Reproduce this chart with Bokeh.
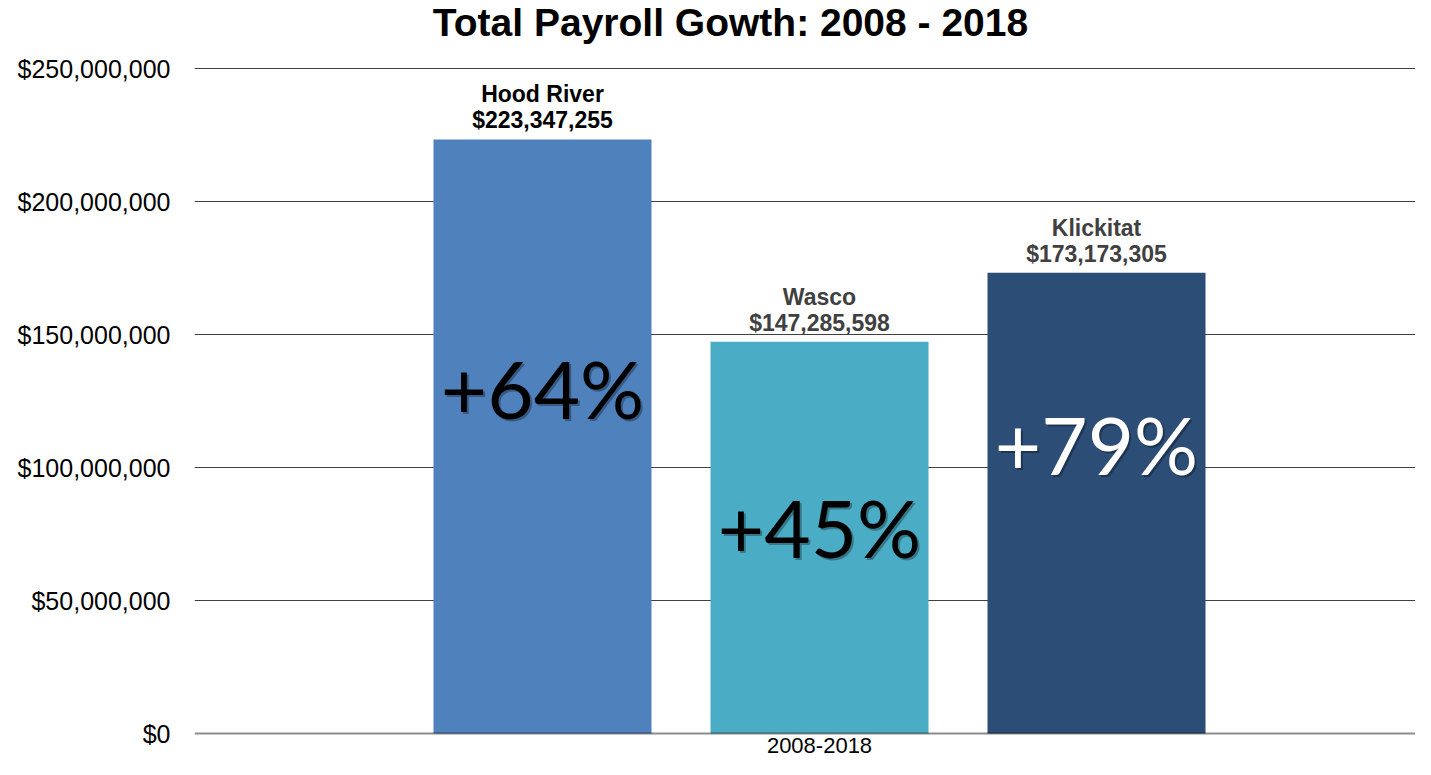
from bokeh.plotting import figure
from bokeh.models import (ColumnDataSource, FixedTicker, NumeralTickFormatter,
                          Range1d, Span)
from bokeh.core.properties import value
from bokeh.embed import file_html
from bokeh.resources import INLINE

# ---------------- data ----------------
counties = ["Hood River", "Wasco", "Klickitat"]
payroll = [223347255, 147285598, 173173305]
growth = ["+64%", "+45%", "+79%"]
period = "2008-2018"
y_ticks = [0, 50000000, 100000000, 150000000, 200000000, 250000000]
title_text = "Total Payroll Gowth: 2008 - 2018"

# ---------------- styles / layout ----------------
bar_colors = ["#4F81BD", "#4BACC6", "#2C4D75"]
label_colors = ["#000000", "#404040", "#404040"]
pct_colors = ["#000000", "#000000", "#FFFFFF"]
pct_frac = [0.581, 0.528, 0.629]   # vertical placement of growth labels within bars

W, H = 1415, 759
LEFT = 194            # frame left edge (px)
PLOT_TOP = 68         # pixel row of the top gridline
PLOT_BOTTOM = 733     # pixel row of the zero line
px_per_val = (PLOT_BOTTOM - PLOT_TOP) / (y_ticks[-1] - y_ticks[0])
y_lo = y_ticks[0] - (H - PLOT_BOTTOM) / px_per_val
y_hi = y_ticks[-1] + PLOT_TOP / px_per_val

idx = list(range(len(counties)))
src = ColumnDataSource(dict(
    x=idx,
    top=payroll,
    county=counties,
    vlabel=[f"${v:,}" for v in payroll],
    color=bar_colors,
    lcolor=label_colors,
    pct=growth,
    pcolor=pct_colors,
    py=[f * v for f, v in zip(pct_frac, payroll)],
))

mid = (len(counties) - 1) / 2
p = figure(width=W, height=H, output_backend="svg", toolbar_location=None,
           x_range=Range1d(mid - 2.2563, mid + 2.1516),
           y_range=Range1d(y_lo, y_hi),
           min_border_left=LEFT, min_border_right=0, min_border_top=0,
           min_border_bottom=0)
p.outline_line_color = None
p.background_fill_color = "white"
p.border_fill_color = "white"

p.vbar(x="x", top="top", width=0.787, bottom=0, source=src,
       fill_color="color", line_color=None)

# zero baseline (drawn over bars)
p.add_layout(Span(location=y_ticks[0], dimension="width", line_color="#000000",
                  line_alpha=0.45, line_width=2, level="overlay"))

# value labels above bars
p.text(x="x", y="top", text="vlabel", source=src, text_color="lcolor",
       text_font=value("Liberation Sans"), text_font_size="23px",
       text_font_style="bold", text_align="center", text_baseline="middle",
       y_offset=-19)
p.text(x="x", y="top", text="county", source=src, text_color="lcolor",
       text_font=value("Liberation Sans"), text_font_size="23px",
       text_font_style="bold", text_align="center", text_baseline="middle",
       y_offset=-45)

# growth labels inside bars (with a soft shadow)
p.text(x="x", y="py", text="pct", source=src, text_color="#000000", text_alpha=0.3,
       text_font=value("Lato"), text_font_size="80px",
       text_align="center", text_baseline="middle", x_offset=2, y_offset=2)
p.text(x="x", y="py", text="pct", source=src, text_color="pcolor",
       text_font=value("Lato"), text_font_size="80px",
       text_align="center", text_baseline="middle")

# chart title (centred over the whole chart area)
p.text(x=[mid], y=[y_ticks[-1]], text=[title_text], x_offset=-89, y_offset=-46,
       text_font=value("Liberation Sans"), text_font_size="39px",
       text_font_style="bold", text_color="#000000", text_align="center",
       text_baseline="middle")

# category label under the axis
p.text(x=[mid], y=[y_ticks[0]], text=[period], y_offset=12,
       text_font=value("Liberation Sans"), text_font_size="22px",
       text_color="#000000", text_align="center", text_baseline="middle")

# axes
p.yaxis.ticker = FixedTicker(ticks=y_ticks)
p.yaxis.formatter = NumeralTickFormatter(format="$0,0")
p.yaxis.axis_line_color = None
p.yaxis.major_tick_line_color = None
p.yaxis.major_tick_out = 0
p.yaxis.major_tick_in = 0
p.yaxis.minor_tick_line_color = None
p.yaxis.major_label_standoff = 24
p.yaxis.major_label_text_font = "Liberation Sans"
p.yaxis.major_label_text_font_size = "25px"
p.yaxis.major_label_text_color = "#000000"

p.xaxis.visible = False

p.xgrid.grid_line_color = None
p.ygrid.ticker = FixedTicker(ticks=y_ticks[1:])
p.ygrid.grid_line_color = "#404040"
p.ygrid.grid_line_width = 1.2

open("out.html", "w").write(file_html(p, INLINE))
